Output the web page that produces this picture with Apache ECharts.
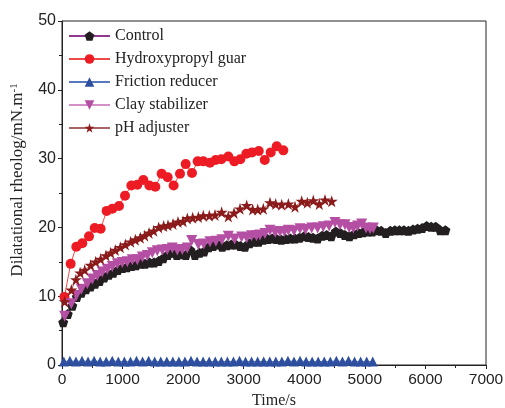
<!DOCTYPE html>
<html><head><meta charset="utf-8">
<script src="https://cdn.jsdelivr.net/npm/echarts@6/dist/echarts.min.js"></script>
<style>html,body{margin:0;padding:0;background:#fff}#c{width:505px;height:408px}</style>
</head><body><div id="c"></div>
<script>
const seriesNames = ['Control','Hydroxypropyl guar','Friction reducer','Clay stabilizer','pH adjuster'];
const xTicks = [0,1000,2000,3000,4000,5000,6000,7000];
const yTicks = [0,10,20,30,40,50];

const controlData = [[20,6.2],[95,7.4],[170,8.6],[245,9.9],[320,10.5],[395,11.0],[470,11.4],[545,11.8],[620,12.2],[695,12.7],[770,13.1],[845,13.4],[920,13.8],[995,14.1],[1070,14.2],[1145,14.4],[1220,14.5],[1295,14.7],[1370,14.7],[1445,14.9],[1520,14.9],[1595,15.1],[1670,15.5],[1745,16.0],[1820,16.3],[1895,16.0],[1970,16.1],[2045,16.0],[2120,16.7],[2195,16.0],[2270,16.3],[2345,16.5],[2420,17.1],[2495,17.3],[2570,17.5],[2645,17.2],[2720,17.4],[2795,17.5],[2870,17.5],[2945,17.3],[3020,17.2],[3095,17.7],[3170,17.9],[3245,17.9],[3320,18.2],[3395,18.3],[3470,18.4],[3545,18.3],[3620,18.2],[3695,18.3],[3770,18.4],[3845,18.4],[3920,18.5],[3995,18.7],[4070,18.6],[4145,18.5],[4220,18.4],[4295,18.8],[4370,18.9],[4445,18.7],[4520,19.4],[4595,19.2],[4670,18.9],[4745,18.7],[4820,19.0],[4895,19.2],[4970,19.3],[5045,19.4],[5120,19.4],[5195,19.6],[5270,19.5],[5345,19.2],[5420,19.5],[5495,19.6],[5570,19.6],[5645,19.6],[5720,19.5],[5795,19.7],[5870,19.8],[5945,19.9],[6020,20.2],[6095,20.1],[6170,20.1],[6245,19.6],[6330,19.6]];

const guarData = [[40,9.9],[143,14.7],[236,17.2],[335,17.7],[446,18.7],[540,19.9],[638,19.8],[737,22.4],[831,22.7],[941,23.1],[1040,24.6],[1145,26.1],[1243,26.2],[1343,26.9],[1442,26.1],[1541,25.9],[1645,27.8],[1745,27.3],[1843,26.1],[1948,27.8],[2042,29.2],[2146,27.9],[2240,29.6],[2333,29.6],[2443,29.4],[2537,29.8],[2630,29.9],[2746,30.3],[2845,29.6],[2944,29.9],[3043,30.7],[3137,30.9],[3248,31.1],[3347,29.8],[3446,30.9],[3545,31.8],[3654,31.2]];

const frictionData = [[30,0.5],[130,0.6],[230,0.5],[330,0.6],[430,0.5],[530,0.6],[630,0.5],[730,0.5],[830,0.6],[930,0.5],[1030,0.5],[1130,0.5],[1230,0.6],[1330,0.5],[1430,0.6],[1530,0.5],[1630,0.5],[1730,0.5],[1830,0.5],[1930,0.5],[2030,0.5],[2130,0.6],[2230,0.5],[2330,0.5],[2430,0.5],[2530,0.5],[2630,0.5],[2730,0.5],[2830,0.5],[2930,0.6],[3030,0.5],[3130,0.5],[3230,0.5],[3330,0.5],[3430,0.5],[3530,0.5],[3630,0.5],[3730,0.6],[3830,0.5],[3930,0.6],[4030,0.5],[4130,0.5],[4230,0.5],[4330,0.5],[4430,0.5],[4530,0.6],[4630,0.5],[4730,0.6],[4830,0.5],[4930,0.5],[5030,0.5],[5130,0.5]];

const clayData = [[44,7.1],[154,8.9],[236,10.1],[319,11.0],[418,11.8],[501,12.5],[583,13.0],[665,13.5],[748,13.9],[831,14.3],[913,14.7],[996,14.9],[1078,15.0],[1161,15.3],[1243,15.3],[1326,15.7],[1408,15.9],[1491,16.3],[1573,16.6],[1656,16.7],[1739,16.8],[1821,17.0],[1904,16.7],[1986,16.8],[2069,17.0],[2141,18.1],[2251,17.5],[2340,17.6],[2443,17.9],[2540,18.0],[2640,18.2],[2746,18.7],[2850,18.3],[2966,18.6],[3050,18.5],[3131,18.8],[3210,18.8],[3269,18.9],[3350,19.1],[3434,19.6],[3520,19.3],[3599,19.4],[3670,19.4],[3737,19.6],[3830,19.5],[3929,19.8],[4020,19.7],[4122,19.9],[4220,19.9],[4314,20.1],[4410,20.2],[4507,20.7],[4590,20.4],[4672,20.4],[4740,20.0],[4810,19.9],[4880,20.2],[4948,20.5],[5020,19.9],[5085,19.8],[5140,19.9]];

const phData = [[44,9.2],[154,10.9],[230,12.4],[300,13.4],[375,13.8],[473,14.5],[556,15.0],[638,15.4],[726,15.9],[804,16.3],[880,16.7],[963,17.1],[1046,17.5],[1134,17.9],[1211,18.2],[1293,18.5],[1365,18.8],[1437,19.2],[1514,19.5],[1596,20.0],[1679,20.2],[1750,20.3],[1833,20.5],[1915,20.8],[1998,20.9],[2069,21.3],[2157,21.4],[2251,21.5],[2333,21.7],[2432,21.7],[2526,21.8],[2636,22.2],[2746,21.6],[2840,22.1],[2939,22.7],[3049,23.2],[3148,22.6],[3231,22.6],[3324,22.7],[3434,23.6],[3528,23.4],[3627,23.3],[3737,23.4],[3847,23.0],[3957,23.8],[4050,23.6],[4149,23.9],[4248,23.4],[4342,24.0],[4453,23.8]];

const pentagon = 'path://M0,-1 L0.951,-0.309 L0.588,0.809 L-0.588,0.809 L-0.951,-0.309 Z';
const star = 'path://M0,-1 L0.2245,-0.309 L0.951,-0.309 L0.363,0.118 L0.588,0.809 L0,0.382 L-0.588,0.809 L-0.363,0.118 L-0.951,-0.309 L-0.2245,-0.309 Z';
const downTri = 'path://M-1,-0.85 L1,-0.85 L0,0.9 Z';

function mk(name, data, symbol, size, mColor, lColor) {
  return {
    name: name, type: 'line', data: data, symbol: symbol, symbolSize: size,
    showAllSymbol: true, animation: false,
    itemStyle: { color: mColor },
    lineStyle: { color: lColor, width: 1 }
  };
}

const chart = echarts.init(document.getElementById('c'), null, {renderer: 'canvas'});
const sans = 'Liberation Sans, Arial, sans-serif';
const serif = 'Liberation Serif, Times New Roman, serif';
chart.setOption({
  animation: false,
  backgroundColor: '#fff',
  grid: { left: 62, right: 19, top: 21, bottom: 43, outerBoundsMode: 'none', containLabel: false,
          show: true, borderColor: '#222', borderWidth: 1 },
  legend: {
    data: seriesNames, orient: 'vertical', left: 63, top: 23, itemWidth: 41, itemHeight: 12, itemGap: 7,
    textStyle: { fontFamily: serif, fontSize: 16, color: '#222' }
  },
  xAxis: {
    type: 'value', min: xTicks[0], max: xTicks[xTicks.length-1], interval: 1000,
    name: 'Time/s', nameLocation: 'middle', nameGap: 28,
    nameTextStyle: { fontFamily: serif, fontSize: 16, color: '#222' },
    axisLine: { lineStyle: { color: '#222', width: 1 } },
    axisTick: { lineStyle: { color: '#222' }, length: 4 },
    minorTick: { show: true, splitNumber: 2, length: 3, lineStyle: { color: '#222' } },
    splitLine: { show: false },
    axisLabel: { fontFamily: sans, fontSize: 15.5, color: '#222', margin: 7, formatter: function (v) { return String(v); } }
  },
  yAxis: {
    type: 'value', min: yTicks[0], max: yTicks[yTicks.length-1], interval: 10,
    name: '{a|Dilatational rheolog/mN.m}{s|-1}', nameLocation: 'middle', nameGap: 25,
    nameTextStyle: { fontFamily: serif, fontSize: 17, color: '#222', padding: [0, 0, 0, 26],
      rich: { a: { fontFamily: serif, fontSize: 17, color: '#222', lineHeight: 19 },
              s: { fontFamily: serif, fontSize: 11, color: '#222', verticalAlign: 'top', lineHeight: 19, padding: [0,0,8,0] } } },
    axisLine: { lineStyle: { color: '#222', width: 1 } },
    axisTick: { lineStyle: { color: '#222' }, length: 4 },
    minorTick: { show: true, splitNumber: 2, length: 3, lineStyle: { color: '#222' } },
    splitLine: { show: false },
    axisLabel: { fontFamily: sans, fontSize: 16, color: '#222', margin: 6 }
  },
  series: [
    mk(seriesNames[0], controlData, pentagon, 10, '#231f20', '#8e3a8e'),
    mk(seriesNames[1], guarData, 'circle', 10, '#ed1c24', '#ef4a4a'),
    mk(seriesNames[2], frictionData, 'triangle', 10, '#2e4f9f', '#5a78bd'),
    mk(seriesNames[3], clayData, downTri, 11, '#b44fa3', '#d590c8'),
    mk(seriesNames[4], phData, star, 12, '#8b1a1a', '#a86464')
  ]
});
</script></body></html>
